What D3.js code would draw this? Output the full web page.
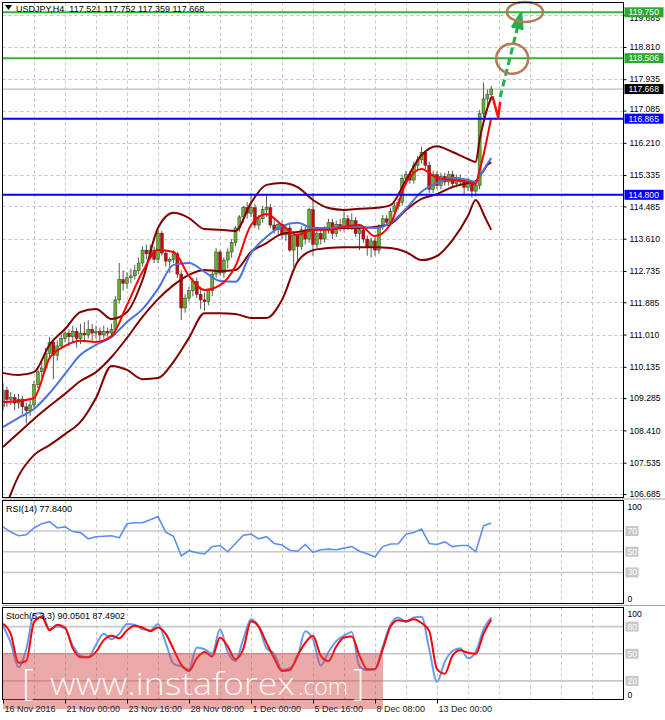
<!DOCTYPE html>
<html><head><meta charset="utf-8">
<script src="https://cdn.jsdelivr.net/npm/d3@7/dist/d3.min.js"></script>
<style>body{margin:0;background:#fff;} svg{display:block;font-family:"Liberation Sans",Arial,sans-serif;}</style>
</head><body><svg id="c" width="665" height="720"></svg>
<script>
// ---------------- DATA ----------------
const headerText = "USDJPY,H4  117.521 117.752 117.359 117.668";
const rsiTitle = "RSI(14) 77.8400";
const stochTitle = "Stoch(5,3,3) 90.0501 87.4902";
const priceTicks = [119.685,118.810,117.935,117.085,116.210,115.335,114.485,113.610,112.735,111.885,111.010,110.135,109.285,108.410,107.535,106.685];
const timeTickBars = [0,16,32,48,64,80,96,112];
const timeLabels = ["16 Nov 2016","21 Nov 00:00","23 Nov 16:00","28 Nov 08:00","1 Dec 00:00","5 Dec 16:00","8 Dec 08:00","13 Dec 00:00"];
const gridBars = [8,16,24,32,40,48,56,64,72,80,88,96,104,112,120,128,136,144,152];

const opens = [109.05,109.50,109.25,109.30,109.15,109.25,109.05,108.95,109.10,109.65,110.00,110.10,110.50,110.80,110.45,110.70,110.90,111.05,110.95,111.10,
110.90,111.05,111.00,111.15,111.05,111.10,111.00,111.10,111.05,111.15,111.95,112.50,112.40,112.55,112.60,112.75,112.95,113.30,113.20,113.30,
113.05,113.76,113.22,113.00,113.05,113.20,112.65,111.73,112.00,112.20,112.45,112.10,111.95,111.90,112.20,112.65,113.25,112.68,113.03,113.25,
113.50,113.90,114.20,114.45,114.30,114.45,113.98,114.15,114.40,114.45,113.98,113.85,114.00,113.71,113.90,113.30,113.70,113.40,113.85,113.60,
114.40,113.45,113.75,113.60,113.85,114.05,113.75,114.00,113.90,114.15,113.95,114.10,113.75,113.85,113.60,113.40,113.55,113.30,113.95,114.15,
114.05,114.35,114.50,114.60,115.25,115.35,115.20,115.60,115.75,115.95,115.60,114.95,115.35,115.05,115.30,115.15,115.35,115.10,115.25,115.15,
115.00,115.15,114.90,115.05,117.00,117.40,117.521];
const highs = [109.70,109.60,109.45,109.40,109.40,109.35,109.15,109.25,109.75,110.15,110.30,110.65,110.95,110.90,110.85,111.05,111.20,111.15,111.25,111.20,
111.30,111.35,111.40,111.30,111.25,111.20,111.25,111.20,111.30,112.05,112.95,112.75,112.70,112.80,112.90,113.10,113.40,113.45,113.45,113.40,
113.85,113.82,113.30,113.10,113.30,113.25,112.75,112.10,112.30,112.55,112.55,112.30,112.15,112.25,112.75,113.35,113.30,113.10,113.35,113.60,
113.95,114.25,114.50,114.60,114.85,114.55,114.25,114.50,114.78,114.55,114.15,114.10,114.10,114.00,114.00,113.80,113.80,113.95,113.95,114.45,
114.85,113.85,113.90,113.95,114.15,114.15,114.10,114.15,114.35,114.25,114.30,114.20,113.95,113.95,113.70,113.65,113.65,114.00,114.25,114.25,
114.45,114.60,114.70,115.35,115.45,115.45,115.70,115.85,116.10,116.00,115.70,115.45,115.45,115.40,115.40,115.45,115.45,115.35,115.35,115.25,
115.25,115.20,115.15,117.10,117.85,117.65,117.752];
const lows = [108.95,109.05,109.10,108.95,109.00,108.85,108.60,108.80,109.00,109.55,109.85,110.00,110.40,109.80,110.30,110.60,110.80,110.70,110.80,110.65,
110.75,110.85,110.90,110.85,110.90,110.85,110.90,110.95,110.95,111.05,111.85,112.20,112.25,112.40,112.50,112.65,112.85,113.05,113.10,112.95,
112.95,113.15,112.85,112.68,112.95,112.55,111.40,111.60,111.90,112.05,112.00,111.70,111.65,111.80,112.05,112.55,112.60,112.55,112.80,113.10,
113.40,113.80,114.05,114.15,114.20,113.90,113.85,114.05,114.20,113.90,113.75,113.70,113.60,113.55,113.25,112.85,113.00,113.30,113.45,113.50,
113.15,113.35,113.45,113.50,113.75,113.60,113.65,113.80,113.80,113.85,113.85,113.65,113.30,113.50,113.15,113.10,113.15,113.20,113.85,113.95,
113.95,114.25,114.40,114.50,115.10,115.10,115.10,115.45,115.65,115.50,114.85,114.85,114.95,114.95,115.05,115.05,115.00,115.00,115.05,114.78,
114.90,114.72,114.75,114.95,116.90,117.20,117.359];
const closes = [109.50,109.25,109.30,109.15,109.25,109.05,108.95,109.10,109.65,110.00,110.10,110.50,110.80,110.45,110.70,110.90,111.05,110.95,111.10,110.90,
111.05,111.00,111.15,111.05,111.10,111.00,111.10,111.05,111.15,111.95,112.50,112.40,112.55,112.60,112.75,112.95,113.30,113.20,113.30,113.05,
113.76,113.22,113.00,113.05,113.20,112.65,111.73,112.00,112.20,112.45,112.10,111.95,111.90,112.20,112.65,113.25,112.68,113.03,113.25,113.50,
113.90,114.20,114.45,114.30,114.45,113.98,114.15,114.40,114.45,113.98,113.85,114.00,113.71,113.90,113.30,113.70,113.40,113.85,113.60,114.40,
113.45,113.75,113.60,113.85,114.05,113.75,114.00,113.90,114.15,113.95,114.10,113.75,113.85,113.60,113.40,113.55,113.30,113.95,114.15,114.05,
114.35,114.50,114.60,115.25,115.35,115.20,115.60,115.75,115.95,115.60,114.95,115.35,115.05,115.30,115.15,115.35,115.10,115.25,115.15,115.00,
115.15,114.90,115.05,117.00,117.40,117.52,117.668];

// indicator lines, read at these bar numbers
const sampleBars = [0,4,8,12,16,20,24,28,32,36,40,44,48,52,56,60,64,68,72,76,80,84,88,92,96,100,104,108,112,116,120,122,123,124,125,126];
const upperBand = [109.97,109.91,109.99,110.73,111.16,111.62,111.70,111.43,111.62,112.49,113.90,114.31,114.17,113.87,113.85,113.82,114.58,115.07,115.12,115.01,114.66,114.44,114.39,114.42,114.44,114.52,115.20,115.88,116.12,115.96,115.77,115.69,116.29,116.77,117.15,117.45];
const middleBand = [107.96,108.34,108.72,109.07,109.40,109.75,109.99,110.40,110.92,111.49,111.97,112.35,112.63,112.76,112.73,112.76,113.25,113.49,113.74,113.79,113.85,113.87,113.90,113.90,113.93,114.01,114.39,114.69,114.82,115.01,115.12,115.17,115.31,115.45,115.61,115.68];
const lowerBand = [106.12,107.17,107.74,108.01,108.31,108.64,109.29,110.16,110.05,109.80,109.83,110.27,110.92,111.59,111.59,111.57,111.46,111.46,111.95,112.98,113.30,113.36,113.38,113.38,113.38,113.36,113.25,113.03,113.14,113.57,114.23,114.66,114.52,114.28,114.06,113.85];
const redMA = [109.18,109.21,109.29,110.37,110.70,110.84,110.81,110.97,111.81,112.71,113.30,113.25,112.60,112.22,112.35,112.87,113.98,114.28,113.98,113.71,113.85,113.85,113.93,113.98,113.68,114.01,115.12,115.50,115.26,115.20,115.15,115.09,115.47,115.88,116.37,116.89];
const blueMA = [108.50,108.75,108.99,109.42,109.94,110.46,110.73,110.94,111.35,111.70,112.25,112.90,112.95,112.71,112.46,112.44,113.22,113.66,113.95,114.04,113.90,113.90,113.93,113.93,113.90,114.04,114.42,114.88,115.12,115.26,115.20,115.15,115.31,115.47,115.64,115.80];

// RSI & Stochastic, read every second bar (0,2,4,...,126)
const rsiValues = [74,69,65.5,66.4,73,77,79,73,74,69.5,68.5,62.5,64.5,65,65.5,63.5,77,78,78,81,84,69,65,46,51,49,48,55,56,50,58,66,67,62.5,64.5,58,56.5,51.5,50.5,57,49.5,52,52.5,52,53.5,55,50.5,48,45,55,57.5,57.7,67,68.5,72,58,57,59.5,55,56,56,50,75,77.84];
const stochMain = [81,62,35,55,94,95,77,80,78,59,48,46,60,72,66,72,83,82,77,76,83,62,39,36,33,57,55,50,77,52,42,66,88,80,56,50,32,34,46,75,66,37,52,64,70,74,36,32,33,58,82,90,85,90,91,55,19,41,53,56,45,52,77,90.05];
const stochSignal = [83,72,40,42,85,91,76,82,79,56,46,46,52,65,70,67,76,81,79,75,79,72,55,38,31,45,52,47,68,58,44,55,86,80,62,45,31,32,48,62,70,48,42,58,68,69,48,33,33,55,80,87,86,88,84,75,33,28,48,54,51,50,72,87.49];
const rsiLevels = [70,50,30];
const stochLevels = [80,50,20];

// horizontal levels and annotations (bar number, price)
const greenLevels = [119.750, 118.506];
const blueLevels = [116.865, 114.800];
const lastPrice = 117.668;
const greenArrow = [[128.3,117.45],[133.7,119.73]];
const redArrow = [[126.3,117.48],[127.8,116.89],[128.3,117.32]];
const circles = [[131.4,118.49],[134.7,119.76]];

// ---------------- LAYOUT ----------------
const L = 2.5, R = 623.5;
const mainTop = 2.5, mainBot = 497.5;
const rsiTop = 500.5, rsiBot = 603.5;
const stTop = 607.5, stBot = 699.5;

const x = d3.scaleLinear().domain([0,160]).range([3,623]);
const yP = d3.scaleLinear().domain([106.685,119.750]).range([494,12.3]);
const yR = d3.scaleLinear().domain([0,100]).range([603.5,500]);
const yS = d3.scaleLinear().domain([0,100]).range([699,608.5]);

const svg = d3.select("#c");
svg.append("rect").attr("width",665).attr("height",720).attr("fill","#fff");
const defs = svg.append("defs");
defs.append("clipPath").attr("id","cm").append("rect").attr("x",L).attr("y",mainTop).attr("width",R-L).attr("height",mainBot-mainTop);
defs.append("clipPath").attr("id","cr").append("rect").attr("x",L).attr("y",rsiTop).attr("width",R-L).attr("height",rsiBot-rsiTop);
defs.append("clipPath").attr("id","cs").append("rect").attr("x",L).attr("y",stTop).attr("width",R-L).attr("height",stBot-stTop);

const gridCol = "#c4c4c4";
function vGrid(y0,y1){
  svg.append("g").selectAll("line").data(gridBars).enter().append("line")
    .attr("x1",d=>Math.round(x(d))+0.5).attr("x2",d=>Math.round(x(d))+0.5)
    .attr("y1",y0).attr("y2",y1).attr("stroke",gridCol).attr("stroke-dasharray","3,3");
}
vGrid(mainTop,mainBot); vGrid(rsiTop,rsiBot); vGrid(stTop,stBot);
svg.append("g").selectAll("line").data(priceTicks).enter().append("line")
  .attr("x1",L).attr("x2",R).attr("y1",d=>Math.round(yP(d))+0.5).attr("y2",d=>Math.round(yP(d))+0.5)
  .attr("stroke",gridCol).attr("stroke-dasharray","3,3");

svg.append("g").selectAll("line").data(rsiLevels).enter().append("line")
  .attr("x1",L).attr("x2",R).attr("y1",d=>yR(d)).attr("y2",d=>yR(d)).attr("stroke","#c8c8c8").attr("stroke-width",1.6);
svg.append("g").selectAll("line").data(stochLevels).enter().append("line")
  .attr("x1",L).attr("x2",R).attr("y1",d=>yS(d)).attr("y2",d=>yS(d)).attr("stroke","#c8c8c8").attr("stroke-width",1.6);

svg.append("line").attr("x1",L).attr("x2",R).attr("y1",yP(lastPrice)).attr("y2",yP(lastPrice)).attr("stroke","#bdbdbd").attr("stroke-width",1.2);

// candles
const gMain = svg.append("g").attr("clip-path","url(#cm)");
const bars = d3.range(opens.length);
gMain.append("g").selectAll("line").data(bars).enter().append("line")
  .attr("x1",i=>x(i)).attr("x2",i=>x(i)).attr("y1",i=>yP(highs[i])).attr("y2",i=>yP(lows[i]))
  .attr("stroke","#5a5a5a").attr("stroke-width",1);
gMain.append("g").selectAll("rect").data(bars).enter().append("rect")
  .attr("x",i=>x(i)-1.5).attr("width",3)
  .attr("y",i=>yP(Math.max(opens[i],closes[i])))
  .attr("height",i=>Math.max(1,Math.abs(yP(opens[i])-yP(closes[i]))))
  .attr("fill",i=>closes[i]>=opens[i]?"#62b22a":"#d40000")
  .attr("stroke","#3a3a3a").attr("stroke-width",0.5);

const lineP = d3.line().x((d,i)=>x(sampleBars[i])).y(d=>yP(d)).curve(d3.curveMonotoneX);
[[lowerBand,"#800000"],[upperBand,"#800000"],[middleBand,"#800000"],[blueMA,"#4a72e0"],[redMA,"#ff0000"]].forEach(([arr,col])=>{
  gMain.append("path").attr("d",lineP(arr)).attr("fill","none").attr("stroke",col).attr("stroke-width",2).attr("stroke-linejoin","round");
});

svg.append("g").selectAll("line").data(greenLevels).enter().append("line")
  .attr("x1",L).attr("x2",R).attr("y1",d=>yP(d)).attr("y2",d=>yP(d)).attr("stroke","#33b533").attr("stroke-width",2);
svg.append("g").selectAll("line").data(blueLevels).enter().append("line")
  .attr("x1",L).attr("x2",R).attr("y1",d=>yP(d)).attr("y2",d=>yP(d)).attr("stroke","#0000ff").attr("stroke-width",2);

// annotations
const px = p => [x(p[0]), yP(p[1])];
const ga0 = px(greenArrow[0]), ga1 = px(greenArrow[1]);
svg.append("line").attr("x1",ga0[0]).attr("y1",ga0[1]).attr("x2",ga1[0]).attr("y2",ga1[1])
  .attr("stroke","#22b14c").attr("stroke-width",3).attr("stroke-dasharray","7,4");
(function(){
  const ang = Math.atan2(ga1[1]-ga0[1], ga1[0]-ga0[0]);
  const len = 17, spread = 0.32;
  const w1 = [ga1[0]-len*Math.cos(ang-spread), ga1[1]-len*Math.sin(ang-spread)];
  const w2 = [ga1[0]-len*Math.cos(ang+spread), ga1[1]-len*Math.sin(ang+spread)];
  svg.append("path").attr("d",d3.line()([w1,ga1,w2])).attr("fill","#22b14c").attr("stroke","#22b14c").attr("stroke-width",2.5).attr("stroke-linejoin","round");
})();
svg.append("path").attr("d",d3.line()(redArrow.map(px))).attr("fill","none").attr("stroke","#ff1010").attr("stroke-width",2.5).attr("stroke-linejoin","round");
const circleSize = [[16,15],[18,10]];
circles.forEach((c,k)=>{
  const p = px(c);
  svg.append("ellipse").attr("cx",p[0]).attr("cy",p[1]).attr("rx",circleSize[k][0]).attr("ry",circleSize[k][1])
    .attr("fill","none").attr("stroke","#b47a55").attr("stroke-width",2.5);
});

// RSI line
const evenBars = d3.range(0,opens.length,2);
const gR = svg.append("g").attr("clip-path","url(#cr)");
gR.append("path").attr("d",d3.line().x((d,i)=>x(evenBars[i])).y(d=>yR(d))(rsiValues))
  .attr("fill","none").attr("stroke","#5b8fef").attr("stroke-width",1.6);
// Stoch lines
const gS = svg.append("g").attr("clip-path","url(#cs)");
const lineS = d3.line().x((d,i)=>x(evenBars[i])).y(d=>yS(d)).curve(d3.curveMonotoneX);
gS.append("path").attr("d",lineS(stochMain)).attr("fill","none").attr("stroke","#6a9af0").attr("stroke-width",2);
gS.append("path").attr("d",lineS(stochSignal)).attr("fill","none").attr("stroke","#ff0000").attr("stroke-width",2);

// frames
[[mainTop,mainBot],[rsiTop,rsiBot],[stTop,stBot]].forEach(([t,b])=>{
  svg.append("rect").attr("x",L).attr("y",t).attr("width",R-L).attr("height",b-t).attr("fill","none").attr("stroke","#000").attr("stroke-width",1);
});
svg.append("line").attr("x1",L).attr("x2",665).attr("y1",mainBot+1.5).attr("y2",mainBot+1.5).attr("stroke","#a0a0a0");
svg.append("line").attr("x1",L).attr("x2",665).attr("y1",rsiBot+2).attr("y2",rsiBot+2).attr("stroke","#a0a0a0");

// price axis
const fontFam = "Liberation Sans, Arial, sans-serif";
const ax = svg.append("g").attr("transform",`translate(${R},0)`)
  .call(d3.axisRight(yP).tickValues(priceTicks).tickSize(3).tickPadding(3).tickFormat(d3.format(".3f")));
ax.select(".domain").remove();
ax.attr("font-size",8.6).attr("font-family",fontFam);
ax.selectAll("line").attr("stroke","#000");
ax.selectAll("text").attr("fill","#000");
// labels that sit next to a level box are nudged away from it
ax.selectAll(".tick").filter(d=>d===117.085).select("text").attr("dy","0.1em");
ax.selectAll(".tick").filter(d=>d===119.685).select("text").attr("dy","0.62em");

function priceBox(v, fill, col){
  const yy = yP(v);
  svg.append("rect").attr("x",R+1).attr("y",yy-5).attr("width",39).attr("height",10).attr("fill",fill);
  svg.append("text").attr("x",R+5).attr("y",yy+3.1).attr("font-size",8.6).attr("font-family",fontFam).attr("fill",col).text(v.toFixed(3));
}
greenLevels.forEach(v=>priceBox(v,"#2fa82f","#fff"));
blueLevels.forEach(v=>priceBox(v,"#0000ff","#fff"));
priceBox(lastPrice,"#000","#fff");

function subAxis(scale, top, bot, levels){
  [100,0].forEach(v=>{
    let yy = Math.min(Math.max(scale(v), top+6.5), bot-5);
    svg.append("text").attr("x",R+4).attr("y",yy+3).attr("font-size",8.6).attr("font-family",fontFam).attr("fill","#000").text(v);
  });
  levels.forEach(v=>{
    const yy = scale(v);
    svg.append("rect").attr("x",R+2).attr("y",yy-5).attr("width",13).attr("height",10).attr("fill","#c8c8c8");
    svg.append("text").attr("x",R+4).attr("y",yy+3).attr("font-size",8.6).attr("font-family",fontFam).attr("fill","#fff").text(v);
  });
}
subAxis(yR, rsiTop, rsiBot, rsiLevels);
subAxis(yS, stTop, stBot, stochLevels);

// watermark (drawn before the time labels)
const wm = svg.append("g");
wm.append("rect").attr("x",3).attr("y",653).attr("width",380).attr("height",56).attr("fill","rgb(212,70,70)").attr("fill-opacity",0.46);
const wmFont = "Open Sans, Liberation Sans, sans-serif";
wm.append("text").attr("x",22).attr("y",695).attr("font-size",36).attr("font-weight",300).attr("font-family",wmFont).attr("fill","#fff").attr("fill-opacity",0.9).text("[");
wm.append("text").attr("x",50).attr("y",695).attr("font-size",32).attr("font-weight",300).attr("font-family",wmFont).attr("fill","#fff").attr("fill-opacity",0.9)
  .attr("textLength",245).attr("lengthAdjust","spacingAndGlyphs").text("www.instaforex");
wm.append("text").attr("x",298).attr("y",695).attr("font-size",23).attr("font-weight",300).attr("font-family",wmFont).attr("fill","#fff").attr("fill-opacity",0.9)
  .attr("textLength",50).attr("lengthAdjust","spacingAndGlyphs").text(".com");
wm.append("text").attr("x",353).attr("y",695).attr("font-size",36).attr("font-weight",300).attr("font-family",wmFont).attr("fill","#fff").attr("fill-opacity",0.9).text("]");

// time axis
const tx = svg.append("g").attr("transform",`translate(0,${stBot})`)
  .call(d3.axisBottom(x).tickValues(timeTickBars).tickSize(4).tickPadding(2).tickFormat((d,i)=>timeLabels[i]));
tx.select(".domain").remove();
tx.attr("font-size",9).attr("font-family",fontFam);
tx.selectAll("line").attr("stroke","#000");
tx.selectAll("text").attr("text-anchor","start").attr("dx",1).attr("fill","#222");

// titles
svg.append("path").attr("d","M5,5 L12,5 L8.5,10 Z").attr("fill","#000");
svg.append("text").attr("x",16).attr("y",12).attr("font-size",9).attr("font-family",fontFam).attr("fill","#000").attr("xml:space","preserve").text(headerText);
svg.append("text").attr("x",6).attr("y",512).attr("font-size",9).attr("font-family",fontFam).attr("fill","#000").text(rsiTitle);
svg.append("text").attr("x",6).attr("y",619).attr("font-size",9).attr("font-family",fontFam).attr("fill","#000").text(stochTitle);
</script>
</body></html>
